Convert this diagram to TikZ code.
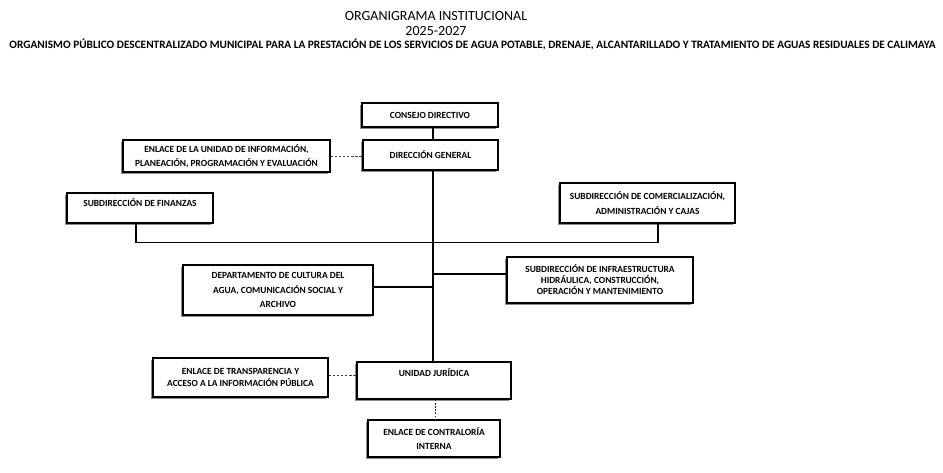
\documentclass[tikz,border=0pt]{standalone}
\usepackage{fontspec}
\setmainfont{Carlito}
\usetikzlibrary{shadows,calc}
\begin{document}
\begin{tikzpicture}[x=1pt,y=-1pt,
  box/.style={draw=black, line width=1.1pt, fill=white, inner sep=0pt, align=center,
    drop shadow={shadow xshift=-1.6pt, shadow yshift=-1.6pt, fill=black!45, opacity=1},
    font={\fontsize{9.4}{14.5}\selectfont\bfseries}},
  conn/.style={line width=1.2pt, black},
  connsh/.style={line width=1pt, black!40, xshift=-1pt, yshift=-1pt},
  dashl/.style={line width=1pt, black!75, dash pattern=on 2.5pt off 1.6pt},
  dotl/.style={line width=1pt, black!85, dash pattern=on 1.8pt off 1.4pt},
  ttl/.style={inner sep=0pt}]
\useasboundingbox (0,0) rectangle (943,472);
\fill[white] (0,0) rectangle (943,472);

% titles
\node[ttl, font={\fontsize{14}{16}\selectfont}] (t1) at (436,16) {ORGANIGRAMA INSTITUCIONAL};
\node[ttl, font={\fontsize{14}{16}\selectfont}] (t2) at (436,31) {2025-2027};
\node[ttl, font={\fontsize{11.3}{13}\selectfont\bfseries}] (t3) at (472.5,45) {ORGANISMO PÚBLICO DESCENTRALIZADO MUNICIPAL PARA LA PRESTACIÓN DE LOS SERVICIOS DE AGUA POTABLE, DRENAJE, ALCANTARILLADO Y TRATAMIENTO DE AGUAS RESIDUALES DE CALIMAYA};

% boxes
\node[box, minimum width=136pt, minimum height=24pt] (cd) at (430,115) {CONSEJO DIRECTIVO};
\node[box, minimum width=135pt, minimum height=30pt] (dg) at (430.5,155) {DIRECCIÓN GENERAL};
\node[box, minimum width=207pt, minimum height=32pt] (eu) at (226.5,156) {ENLACE DE LA UNIDAD DE INFORMACIÓN,\\PLANEACIÓN, PROGRAMACIÓN Y EVALUACIÓN};
\node[box, minimum width=146pt, text height=13pt, text depth=17pt] (fin) at (140,208) {SUBDIRECCIÓN DE FINANZAS};
\node[box, minimum width=175pt, minimum height=40pt] (com) at (647.5,203) {SUBDIRECCIÓN DE COMERCIALIZACIÓN,\\ADMINISTRACIÓN Y CAJAS};
\node[box, minimum width=190pt, minimum height=50pt] (dep) at (278,290) {DEPARTAMENTO DE CULTURA DEL\\AGUA, COMUNICACIÓN SOCIAL Y\\ARCHIVO};
\node[box, minimum width=186pt, minimum height=46pt, font={\fontsize{9.4}{11}\selectfont\bfseries}] (inf) at (600,280) {SUBDIRECCIÓN DE INFRAESTRUCTURA\\HIDRÁULICA, CONSTRUCCIÓN,\\OPERACIÓN Y MANTENIMIENTO};
\node[box, minimum width=175pt, minimum height=39pt, font={\fontsize{9.4}{12}\selectfont\bfseries}] (tr) at (240.5,377.5) {ENLACE DE TRANSPARENCIA Y\\ACCESO A LA INFORMACIÓN PÚBLICA};
\node[box, minimum width=154pt, text height=14pt, text depth=23pt] (uj) at (434,380.5) {UNIDAD JURÍDICA};
\node[box, minimum width=132pt, minimum height=37pt, font={\fontsize{9.4}{14}\selectfont\bfseries}] (ct) at (434,438.5) {ENLACE DE CONTRALORÍA\\INTERNA};

% helper coordinates
\coordinate (tk) at (433,0);
\coordinate (fx) at (136,242.5);
\coordinate (cx) at (658,242.5);
\coordinate (dj) at (433,287);
\coordinate (ij) at (433,274);
\coordinate (ty) at (0,375);
\coordinate (cty) at (435,0);

% solid connectors (shadow + line)
\foreach \s in {connsh,conn}{
  \draw[\s] (cd.south -| tk) -- (dg.north -| tk);
  \draw[\s] (dg.south -| tk) -- (uj.north -| tk);
  \draw[\s] (fin.south -| fx) -- (fx) -- (cx) -- (com.south -| cx);
  \draw[\s] (dep.east |- dj) -- (dj);
  \draw[\s] (ij) -- (inf.west |- ij);
}

% dashed / dotted connectors
\draw[dashl] (eu.east) -- (eu.east -| dg.west);
\draw[dashl] (tr.east |- ty) -- (uj.west |- ty);
\draw[dotl] (uj.south -| cty) -- (ct.north -| cty);
\end{tikzpicture}
\end{document}
